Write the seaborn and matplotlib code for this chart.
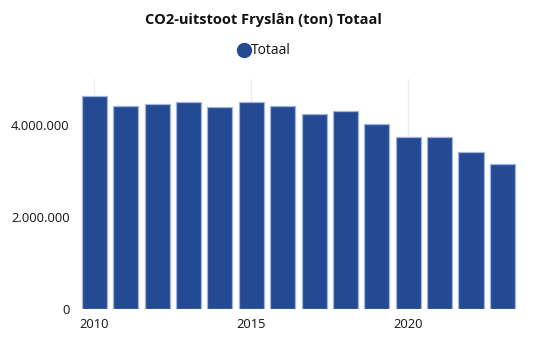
import matplotlib
matplotlib.use("Agg")
import matplotlib.pyplot as plt
from matplotlib.lines import Line2D
from matplotlib.ticker import FuncFormatter
import seaborn as sns
import pandas as pd

# CO2-uitstoot per jaar (ton)
years = [2010, 2011, 2012, 2013, 2014, 2015, 2016, 2017, 2018, 2019, 2020, 2021, 2022, 2023]
totaal = [4640000, 4420000, 4460000, 4500000, 4400000, 4490000, 4420000,
          4240000, 4300000, 4030000, 3730000, 3740000, 3420000, 3150000]
x_ticks = [2010, 2015, 2020]
y_ticks = [0, 2000000, 4000000]

BAR = "#234A93"
EDGE = "#A3B5DA"
TEXT = "#111111"

sns.set_theme(style="white")
plt.rcParams["font.family"] = ["Open Sans", "DejaVu Sans"]

df = pd.DataFrame({"jaar": years, "Totaal": totaal})

fig = plt.figure(figsize=(5.44, 3.47), dpi=100)
ax = fig.add_axes([78 / 544, 1 - 308.5 / 347, 442 / 544, (308.5 - 79) / 347])

sns.barplot(data=df, x="jaar", y="Totaal", native_scale=True, color=BAR,
            saturation=1, width=0.8, edgecolor=EDGE, linewidth=0.9, ax=ax, zorder=2)

ax.set_xlim(2009.48, 2023.56)
ax.set_ylim(0, 5000000)
ax.set_xticks(x_ticks)
ax.set_yticks(y_ticks)
ax.yaxis.set_major_formatter(FuncFormatter(lambda v, _: f"{int(v):,}".replace(",", ".")))
ax.set_xlabel("")
ax.set_ylabel("")
for s in ax.spines.values():
    s.set_visible(False)
ax.grid(axis="x", color="#EEEEEE", linewidth=1, zorder=0)
ax.grid(axis="y", visible=False)
ax.tick_params(axis="both", length=0, labelsize=9.3, colors=TEXT)
ax.tick_params(axis="x", pad=7)
ax.tick_params(axis="y", pad=6)

fig.text(263 / 544, 1 - 20 / 347, "CO2-uitstoot Fryslân (ton) Totaal",
         ha="center", va="center", fontsize=10.5, fontweight="bold", color=TEXT)

handle = Line2D([], [], marker="o", linestyle="none", markersize=10,
                markerfacecolor=BAR, markeredgecolor=BAR)
fig.legend([handle], ["Totaal"], loc="center", bbox_to_anchor=(264 / 544, 1 - 51 / 347),
           frameon=False, fontsize=10, handletextpad=0.0, handlelength=1.0,
           borderpad=0, labelcolor=TEXT)

fig.savefig("out.png", dpi=100)
